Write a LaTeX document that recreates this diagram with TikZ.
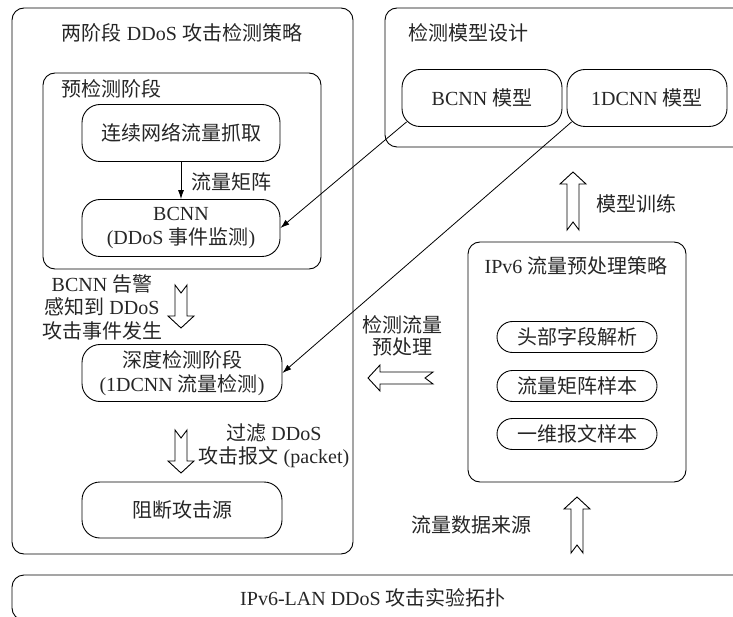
\documentclass[tikz,border=0pt]{standalone}
\usepackage{fontspec}
\setmainfont{Liberation Serif}
\newfontfamily\cjk{Noto Sans CJK SC}
\newcommand\zh[1]{{\cjk #1}}
\usetikzlibrary{arrows.meta}
\begin{document}
\begin{tikzpicture}[x=1pt,y=-1pt, font=\fontsize{20}{24}\selectfont,
  every node/.style={text=black!85},
  container/.style={draw, line width=0.9pt, rounded corners=12pt, inner sep=0pt},
  rbox/.style={draw, line width=0.9pt, rounded corners=18pt, minimum height=57pt, align=center, inner sep=2pt},
  pill/.style={draw, line width=0.9pt, rounded corners=15.5pt, minimum width=160pt, minimum height=31pt, inner sep=0pt},
  lbl/.style={align=center, inner sep=0pt},
  conn/.style={line width=0.8pt, -{Latex[length=9pt,width=6pt]}},
  harrowline/.style={draw, line width=0.9pt, fill=white, line join=miter},
  pics/harrow/.style={code={\path[harrowline] (0,6) -- (#1-12,6) -- (#1-12,13) -- (#1,0) -- (#1-12,-13) -- (#1-12,-6) -- (0,-6) -- (8,0) -- cycle;}}
]
\useasboundingbox (0,0) rectangle (733,617);
\clip (0,0) rectangle (733,617);

% left container
\node[container, minimum width=341pt, minimum height=546pt] (leftbox) at (182.5,281) {};
\node[lbl] (lefttitle) at (182,33) {\zh{两阶段} DDoS \zh{攻击检测策略}};
\node[container, minimum width=278pt, minimum height=196pt] (prebox) at (182,171) {};
\node[lbl] (pretitle) at (111,89) {\zh{预检测阶段}};
\node[rbox, minimum width=198pt] (cap) at (181,133) {\zh{连续网络流量抓取}};
\node[rbox, minimum width=198pt] (bcnn) at (181,228) {BCNN\\(DDoS \zh{事件监测})};
\draw[conn] (cap.south) -- (bcnn.north);
\node[lbl] (matlbl) at (231,182) {\zh{流量矩阵}};

\node[lbl, font=\fontsize{20}{23.5}\selectfont] (alert) at (102,307) {BCNN \zh{告警}\\\zh{感知到} DDoS\\\zh{攻击事件发生}};
\coordinate (ha1) at (181,285);
\pic[rotate=-90] at (ha1) {harrow=43};
\node[rbox, minimum width=200pt] (deep) at (182,373) {\zh{深度检测阶段}\\(1DCNN \zh{流量检测})};
\coordinate (ha2) at (181,430);
\pic[rotate=-90] at (ha2) {harrow=43};
\node[lbl, font=\fontsize{20}{23}\selectfont] (filter) at (274,446) {\zh{过滤} DDoS\\\zh{攻击报文} (packet)};
\node[rbox, minimum width=200pt, minimum height=56pt] (block) at (182,510) {\zh{阻断攻击源}};

% right top container
\node[container, minimum width=360pt, minimum height=139pt] (modelbox) at (565,77.5) {};
\node[lbl] (modeltitle) at (468,33) {\zh{检测模型设计}};
\node[rbox, minimum width=160pt] (bm) at (482,98) {BCNN \zh{模型}};
\node[rbox, minimum width=160pt] (dm) at (647,98) {1DCNN \zh{模型}};
\draw[conn] ([shift={(5,-5)}]bm.south west) -- (bcnn.east);
\draw[conn] ([shift={(5,-5)}]dm.south west) -- (deep.east);

\coordinate (ha3) at (573,230);
\pic[rotate=90] at (ha3) {harrow=58};
\node[lbl] (trainlbl) at (636,204) {\zh{模型训练}};

% preprocessing container
\node[container, minimum width=218pt, minimum height=240pt] (prepbox) at (577,362) {};
\node[lbl] (preptitle) at (576,266) {IPv6 \zh{流量预处理策略}};
\node[pill] (p1) at (577,337) {\zh{头部字段解析}};
\node[pill] (p2) at (577,386) {\zh{流量矩阵样本}};
\node[pill] (p3) at (577,434) {\zh{一维报文样本}};

\coordinate (ha4) at (433,378);
\pic[rotate=180] at (ha4) {harrow=65};
\node[lbl, font=\fontsize{20}{22}\selectfont] (detlbl) at (402,336) {\zh{检测流量}\\\zh{预处理}};

\coordinate (ha5) at (577,553);
\pic[rotate=90] at (ha5) {harrow=56};
\node[lbl] (srclbl) at (471,525) {\zh{流量数据来源}};

% bottom container
\node[container, minimum width=733pt, minimum height=45pt] (lan) at (378.5,597.5) {};
\node[lbl] (lantitle) at (373,598) {IPv6-LAN DDoS \zh{攻击实验拓扑}};
\end{tikzpicture}
\end{document}
